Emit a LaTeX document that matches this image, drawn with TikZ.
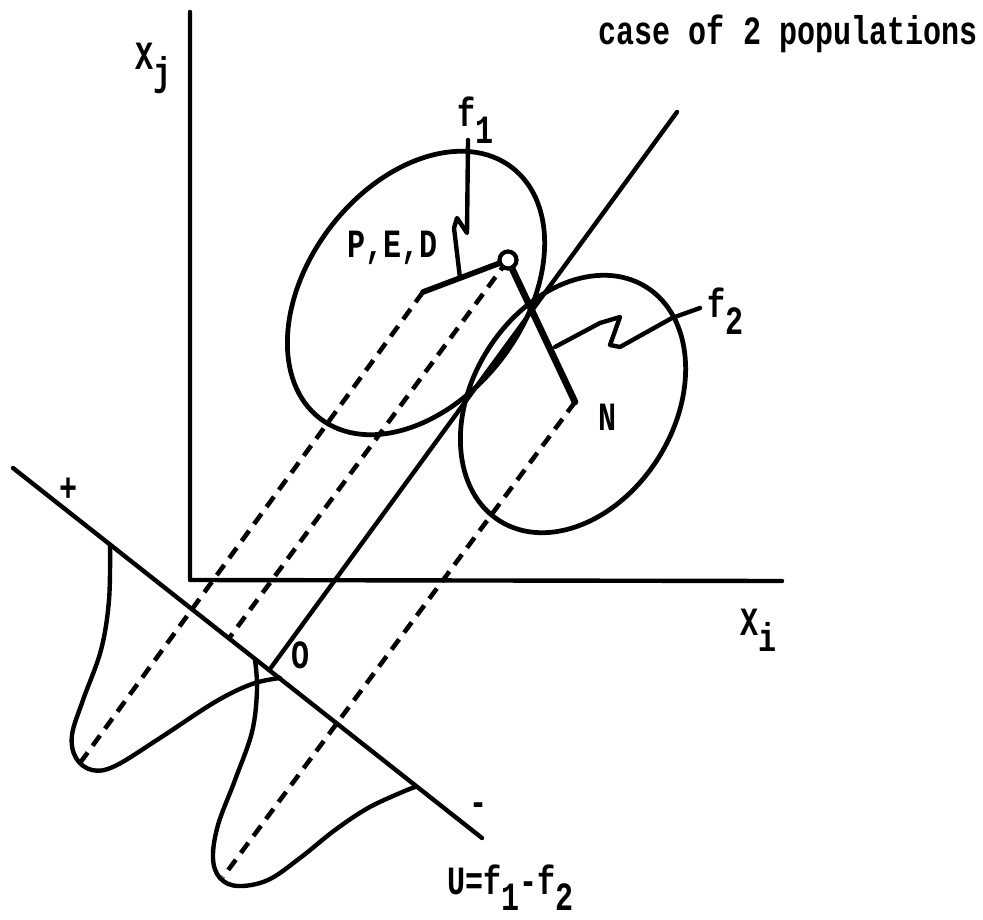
\documentclass[tikz,border=0pt]{standalone}
\usepackage{fontspec}
\newfontfamily\tw[FakeStretch=0.75]{Liberation Mono}
\newcommand\dn[1]{\raisebox{-1.6mm}{#1}}
\begin{document}
\begin{tikzpicture}[x=0.01cm,y=-0.01cm,
  ln/.style={line width=1.25pt, line cap=round, line join=round},
  dsh/.style={line width=1.3pt, dash pattern=on 3.6pt off 2.4pt},
  lbl/.style={inner sep=0pt, font=\tw\bfseries\fontsize{11.4pt}{13pt}\selectfont, anchor=base west}]
\useasboundingbox (0,0) rectangle (983,919);
\fill[white] (0,0) rectangle (983,919);
% named points
\coordinate (origin) at (190,580);
\coordinate (ytop) at (190,12);
\coordinate (xend) at (782,581);
\coordinate (Ulo) at (13,468);
\coordinate (Uhi) at (482,838);
\coordinate (O) at (270,669);
\coordinate (Dtop) at (677,112);
\coordinate (pedL) at (423,292);
\coordinate (Nend) at (575,402);
\coordinate (g1b) at (80,763);
\coordinate (uD2) at (230,637);
\coordinate (g2b) at (223,877);
\coordinate (c) at (508,260);
% dashed projections
\draw[dsh] (pedL) -- (g1b);
\draw[dsh] (c) -- (uD2);
\draw[dsh] (Nend) -- (g2b);
% axes
\draw[ln] (ytop) -- (origin) -- (xend);
% discriminant axis
\draw[ln] (Ulo) -- (Uhi);
% direction line
\draw[ln] (O) -- (Dtop);
% ellipses
\draw[ln, line width=1.35pt, rotate around={52.7:(416,293)}] (416,293) ellipse [x radius=158, y radius=108];
\draw[ln, line width=1.35pt, rotate around={58:(573,404)}] (573,404) ellipse [x radius=138, y radius=101];
% P,E,D line and N line
\draw[ln, line width=1.6pt] (pedL) -- (c);
\draw[ln, line width=1.9pt] (c) -- (Nend);
\node[circle, draw, fill=white, line width=1.2pt, minimum size=0.17cm, inner sep=0pt] (cc) at (c) {};
% gaussians
\draw[ln] plot[smooth, tension=0.6] coordinates {(110,545) (109,600) (101,650) (83,700) (72,735) (76,758) (92,770) (115,766) (160,738) (215,702) (252,684) (280,678)};
\draw[ln] plot[smooth, tension=0.6] coordinates {(255,660) (257,690) (252,732) (235,780) (218,825) (213,858) (220,878) (238,886) (268,880) (300,858) (335,830) (368,808) (400,793) (415,787)};
% leaders
\draw[ln] (468,140) -- (467,233) -- (457,218) -- (454,228) -- (460,278);
\draw[ln] (700,308) -- (672,318) -- (620,347) -- (610,345) -- (620,317) -- (600,323) -- (555,347);
% labels
\node[lbl] (xj) at (135,70) {X\dn{j}};
\node[lbl] (title) at (598,45) {case of 2 populations};
\node[lbl] (f1) at (457,127) {f\dn{1}};
\node[lbl] (ped) at (347,258) {P,E,D};
\node[lbl] (f2) at (707,318) {f\dn{2}};
\node[lbl] (N) at (598,430) {N};
\node[lbl] (xi) at (740,635) {X\dn{i}};
\node[lbl] (Ol) at (291,668) {O};
\node[lbl, anchor=center] (plus) at (69,490) {+};
\node[lbl, anchor=center] (minus) at (479,809) {-};
\node[lbl] (U) at (447,894) {U=f\dn{1}-f\dn{2}};
\end{tikzpicture}
\end{document}
